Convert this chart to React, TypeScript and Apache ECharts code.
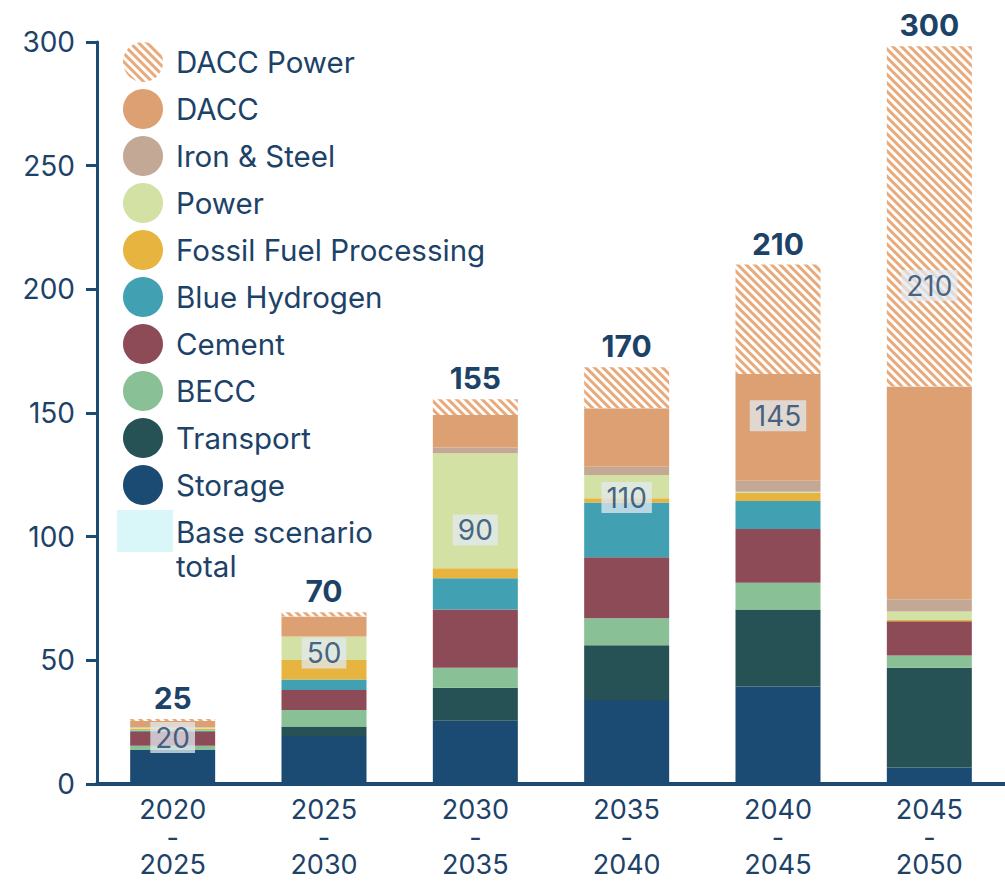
import React, { useEffect, useRef } from "react";
import * as echarts from "echarts";

const categories = ["2020\n-\n2025", "2025\n-\n2030", "2030\n-\n2035", "2035\n-\n2040", "2040\n-\n2045", "2045\n-\n2050"];

const storage = [13.7, 19.4, 25.6, 34.0, 39.4, 6.7];
const transport = [0, 3.8, 13.3, 22.1, 31.2, 40.3];
const becc = [1.8, 6.7, 8.1, 10.9, 10.8, 5.0];
const cement = [5.5, 8.1, 23.6, 24.7, 21.7, 13.8];
const blueHydrogen = [0.6, 4.3, 12.6, 22.1, 11.3, 0];
const fossilFuel = [0.7, 7.8, 4.0, 1.7, 3.4, 0.5];
const power = [0.5, 9.5, 46.5, 9.4, 0.4, 3.4];
const ironSteel = [0.2, 0, 2.4, 3.4, 4.4, 5.0];
const dacc = [2.5, 8.1, 13.1, 23.6, 43.2, 86.0];
const daccPower = [0.8, 1.7, 6.4, 16.6, 44.2, 137.6];

const totals = [25, 70, 155, 170, 210, 300];
const baseTotals = [20, 50, 90, 110, 145, 210];
const baseLabelAnchor = [18.8, 53, 102.7, 115.8, 148.9, 201.5];

const yTicks = [0, 50, 100, 150, 200, 250, 300];

const TEXT = "#1d4268";
const AXIS = "#1b4a72";
const FONT = "Inter";

const seriesDefs = [
  { name: "Storage", data: storage, color: "#1b4a72" },
  { name: "Transport", data: transport, color: "#265255" },
  { name: "BECC", data: becc, color: "#89c096" },
  { name: "Cement", data: cement, color: "#8d4b57" },
  { name: "Blue Hydrogen", data: blueHydrogen, color: "#41a1b3" },
  { name: "Fossil Fuel Processing", data: fossilFuel, color: "#e7b53f" },
  { name: "Power", data: power, color: "#d3e1a4" },
  { name: "Iron & Steel", data: ironSteel, color: "#c3a896" },
  { name: "DACC", data: dacc, color: "#dca073" },
  { name: "DACC Power", data: daccPower, color: "#ffffff" },
];

export default function App() {
  const ref = useRef<HTMLDivElement>(null);
  useEffect(() => {
    if (!ref.current) return;
    const chart = echarts.init(ref.current, null, { renderer: "svg" });
    const barSeries: any[] = seriesDefs.map((s) => {
      const item: any = {
        name: s.name,
        type: "bar",
        stack: "total",
        data: s.data,
        barWidth: 85,
        itemStyle: { color: s.color },
        emphasis: { disabled: true },
      };
      if (s.name === "DACC Power") {
        item.itemStyle = {
          color: "#ffffff",
          decal: {
            symbol: "rect",
            symbolSize: 1,
            dashArrayX: [1, 0],
            dashArrayY: [2.5, 3],
            rotation: Math.PI / 4,
            color: "#e8aa7b",
          },
        };
        item.label = {
          show: true,
          position: "top",
          distance: 6,
          formatter: (p: any) => String(totals[p.dataIndex]),
          fontFamily: FONT,
          fontWeight: "bold",
          fontSize: 30,
          color: TEXT,
        };
      }
      return item;
    });
    const baseSeries = {
      name: "Base scenario total",
      type: "scatter",
      symbolSize: 0,
      z: 10,
      data: categories.map((c, i) => [c, baseLabelAnchor[i]]),
      label: {
        show: true,
        position: "inside",
        formatter: (p: any) => String(baseTotals[p.dataIndex]),
        fontFamily: FONT,
        fontSize: 28,
        color: TEXT,
        backgroundColor: "rgba(225,233,241,0.93)",
        padding: [2, 5, 1, 5],
      },
      emphasis: { disabled: true },
    };
    chart.setOption({
      animation: false,
      backgroundColor: "#ffffff",
      textStyle: { fontFamily: FONT },
      grid: { left: 97, right: -2, top: 42, bottom: 98, containLabel: false },
      legend: {
        orient: "vertical",
        left: 123,
        top: 42,
        padding: 0,
        itemWidth: 40,
        itemHeight: 40,
        itemGap: 7,
        icon: "circle",
        selectedMode: false,
        data: [
          "DACC Power",
          "DACC",
          "Iron & Steel",
          "Power",
          "Fossil Fuel Processing",
          "Blue Hydrogen",
          "Cement",
          "BECC",
          "Transport",
          "Storage",
        ],
        textStyle: { fontFamily: FONT, fontSize: 29.5, color: TEXT, padding: [0, 0, 0, 8] },
      },
      graphic: [
        { type: "rect", left: 117, top: 510, shape: { width: 56, height: 42 }, style: { fill: "#d9f6f9" } },
        {
          type: "text",
          left: 176,
          top: 515,
          style: { text: "Base scenario\ntotal", fontFamily: FONT, fontSize: 29.5, lineHeight: 34, fill: TEXT },
        },
      ],
      xAxis: {
        type: "category",
        data: categories,
        axisLine: { show: true, lineStyle: { color: AXIS, width: 4 } },
        axisTick: { show: false },
        axisLabel: { margin: 12, fontFamily: FONT, fontSize: 27, lineHeight: 27.5, color: TEXT },
      },
      yAxis: {
        type: "value",
        min: yTicks[0],
        max: yTicks[yTicks.length - 1],
        interval: 50,
        splitLine: { show: false },
        axisLine: { show: true, lineStyle: { color: AXIS, width: 3 } },
        axisTick: { show: true, length: 11, lineStyle: { color: AXIS, width: 3 } },
        axisLabel: { margin: 22, fontFamily: FONT, fontSize: 28, color: TEXT },
      },
      series: [...barSeries, baseSeries],
    });
    return () => chart.dispose();
  }, []);
  return <div ref={ref} style={{ position: "absolute", left: 0, top: 0, width: 1005, height: 882 }} />;
}
